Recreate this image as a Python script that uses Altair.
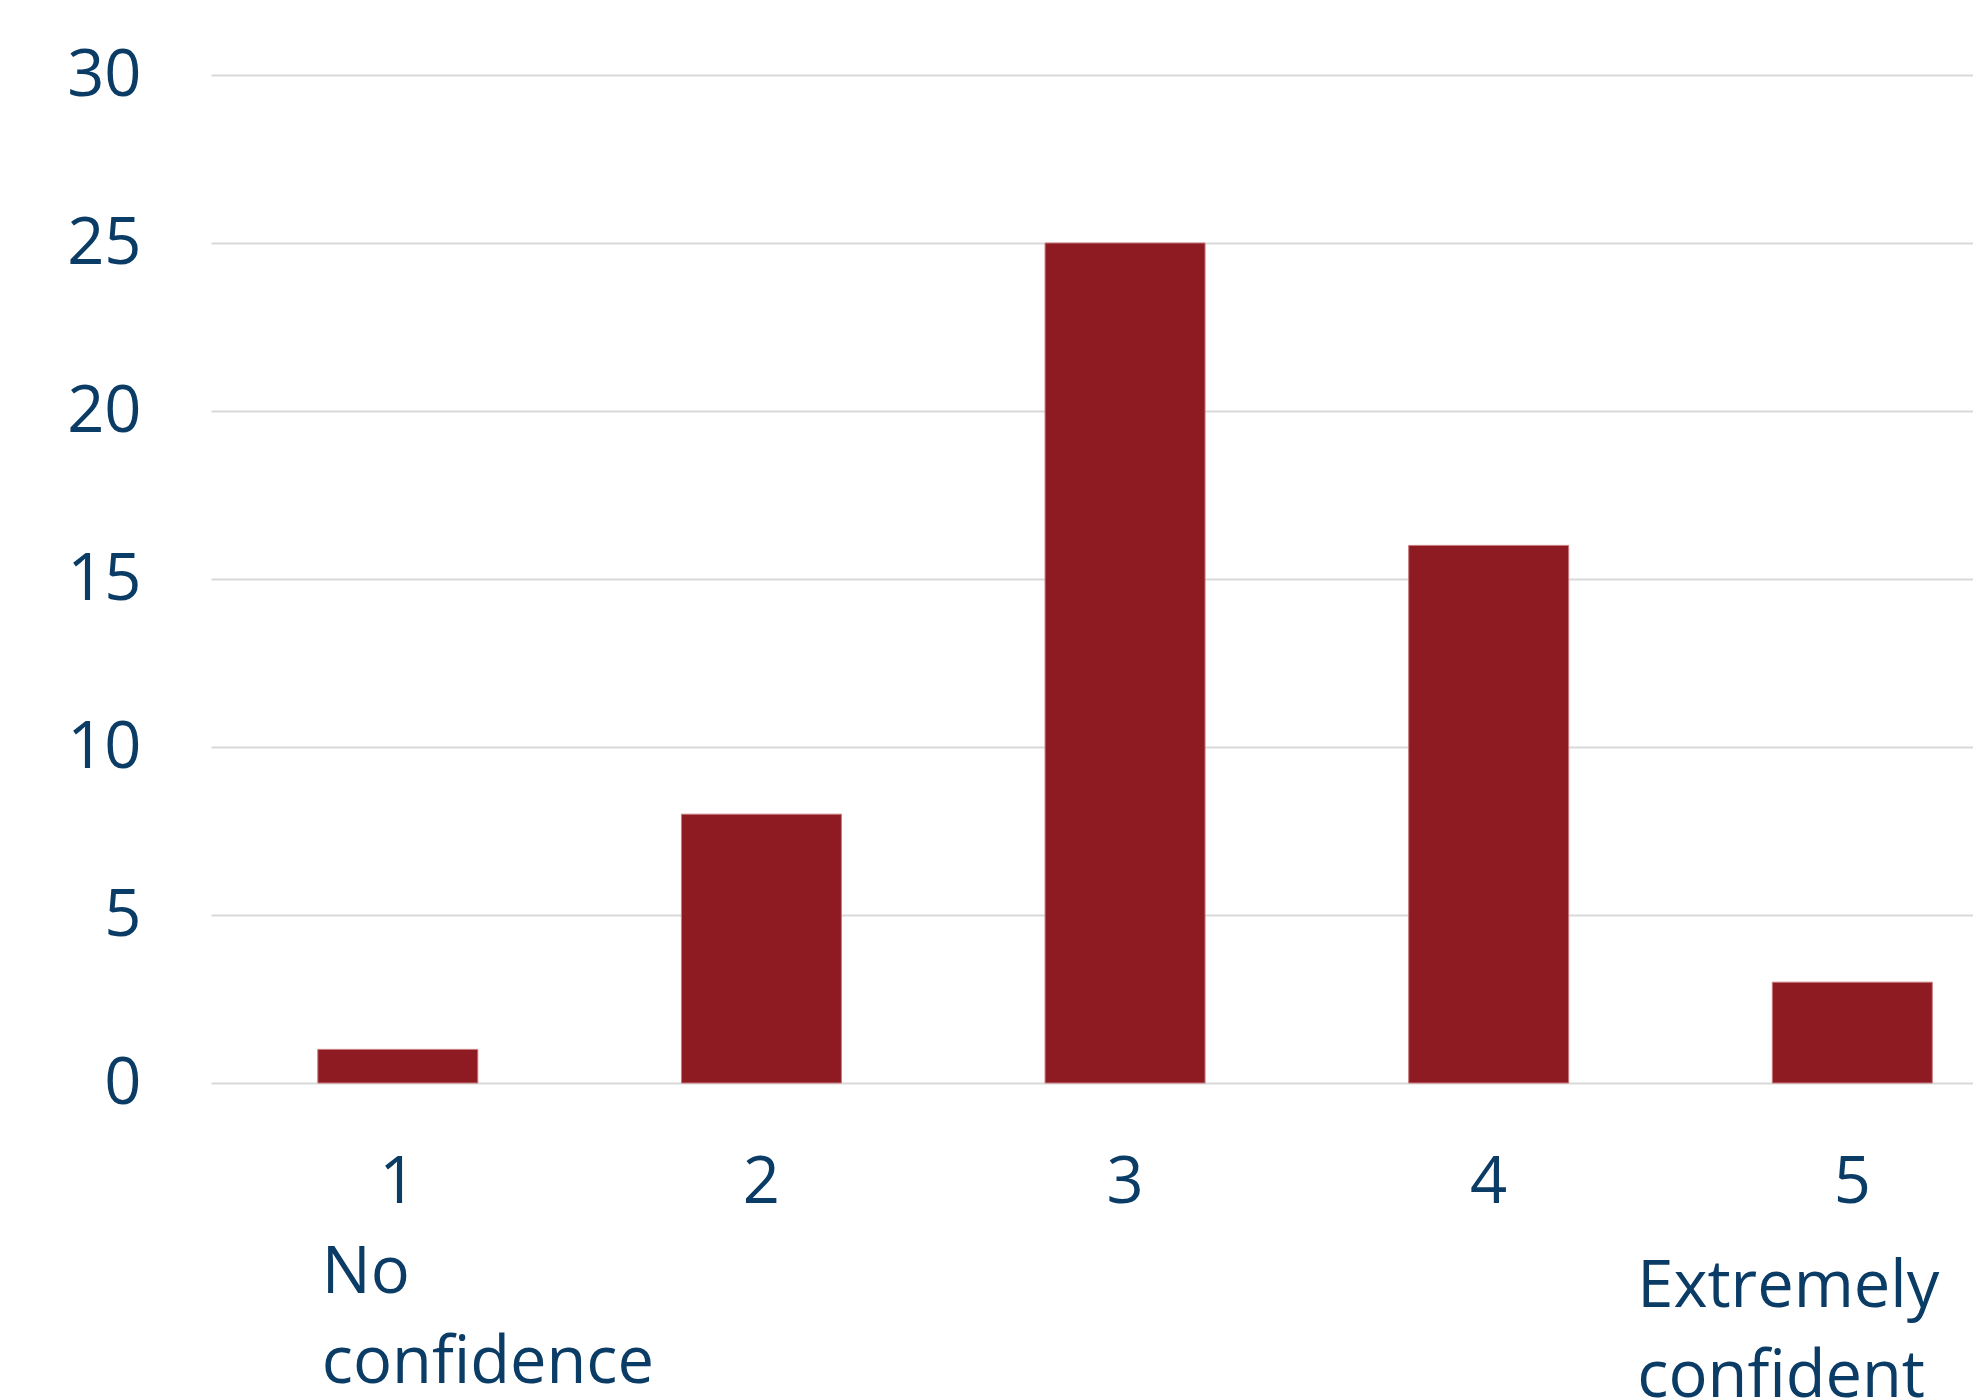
import altair as alt
import pandas as pd

# ---- data ----
ratings = [1, 2, 3, 4, 5]
counts = [1, 8, 25, 16, 3]
digit_labels = ["1", "2", "3", "4", "5"]
y_ticks = [0, 5, 10, 15, 20, 25, 30]

NAVY = "#0B3C66"
BAR = "#8E1A22"
GRID = "#D9D9D9"
FONT = "Open Sans"
FS = 65

df = pd.DataFrame({"rating": ratings, "count": counts, "label": digit_labels})

W = 1762
H = 1008
x_scale = alt.Scale(domain=[0.5, 0.5 + W / 365.7], nice=False, zero=False)
y_scale = alt.Scale(domain=[0, 30], nice=False)

bars = alt.Chart(df).mark_bar(
    size=160, color=BAR, stroke="#C77A7F", strokeWidth=1
).encode(
    x=alt.X("rating:Q", scale=x_scale, axis=None),
    y=alt.Y(
        "count:Q",
        scale=y_scale,
        title=None,
        axis=alt.Axis(
            values=y_ticks,
            domain=False,
            ticks=False,
            grid=True,
            gridColor=GRID,
            gridWidth=2,
            labelColor=NAVY,
            labelFont=FONT,
            labelFontSize=FS,
            labelPadding=70,
            labelBaseline="middle",
        ),
    ),
)

digits = alt.Chart(df).mark_text(
    font=FONT, fontSize=FS, color=NAVY, align="center", baseline="alphabetic", dy=120
).encode(
    x=alt.X("rating:Q", scale=x_scale),
    y=alt.datum(0, scale=y_scale),
    text="label:N",
)


def word(text, rating, dx, dy):
    d = pd.DataFrame({"rating": [rating], "t": [text]})
    return alt.Chart(d).mark_text(
        font=FONT, fontSize=FS, color=NAVY, align="left", baseline="alphabetic", dx=dx, dy=dy
    ).encode(
        x=alt.X("rating:Q", scale=x_scale),
        y=alt.datum(0, scale=y_scale),
        text="t:N",
    )


words = [
    word("No", ratings[0], -76, 210),
    word("confidence", ratings[0], -76, 300),
    word("Extremely", ratings[4], -215, 224),
    word("confident", ratings[4], -215, 314),
]

chart = alt.layer(bars, digits, *words).properties(
    width=W,
    height=H,
    autosize=alt.AutoSizeParams(type="none"),
    padding={"left": 211, "top": 75, "right": 0, "bottom": 316},
    background="white",
).configure_view(stroke=None)

chart.save("out.html", embed_options={"renderer": "svg", "actions": False})
